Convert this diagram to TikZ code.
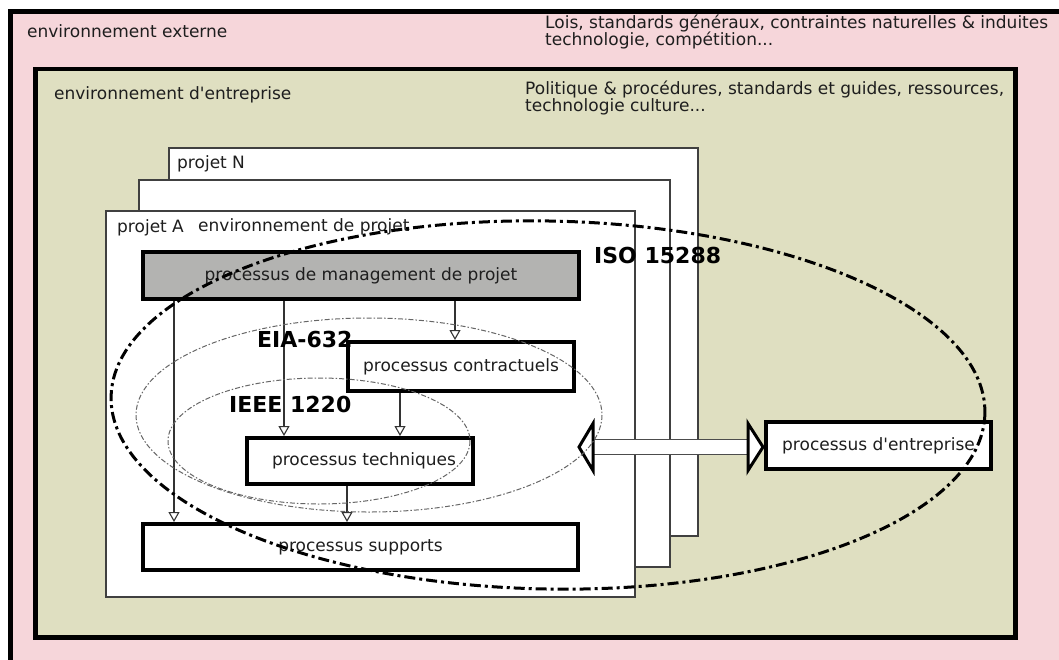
\documentclass[tikz,border=0pt]{standalone}
\usepackage{fontspec}
\setmainfont{DejaVu Sans}[Ligatures=TeXOff]
\usetikzlibrary{arrows.meta,calc}
\definecolor{pinkbg}{HTML}{F6D6DA}
\definecolor{olivebg}{HTML}{DFDFC1}
\definecolor{mgray}{HTML}{B3B3B1}
\definecolor{txtcol}{HTML}{1E1E1E}
\begin{document}
\begin{tikzpicture}[x=1pt,y=-1pt,
  txt/.style={font=\fontsize{17}{18}\selectfont, text=txtcol, inner sep=0pt},
  lbl/.style={font=\fontsize{22}{24}\selectfont\bfseries, text=black, inner sep=0pt},
  envbox/.style={draw=black, line width=4.5pt},
  projbox/.style={draw=black!75, line width=1.5pt, fill=white},
  procbox/.style={draw=black, line width=4pt, fill=white, inner sep=0pt, font=\fontsize{17}{18}\selectfont, text=txtcol},
  arr/.style={draw=black!80, line width=1.2pt, -{Triangle[width=11pt, length=10pt, fill=white, line width=1.1pt]}},
  shaft/.style={draw=black!70, line width=1.6pt, fill=white},
  fathead/.style={draw=black, line width=3pt, fill=white, line join=miter},
  isoell/.style={draw=black, line width=3pt, dash pattern=on 11pt off 4pt on 3pt off 4pt},
  thinell/.style={draw=black!60, line width=1pt, dash pattern=on 5pt off 2pt on 1.5pt off 2pt}
]
\useasboundingbox (0,0) rectangle (1059,659);
% environments
\draw[envbox, fill=pinkbg] (10.5,11.5) rectangle (1075,675);
\draw[envbox, fill=olivebg] (35.5,69) rectangle (1015.5,637.5);
\node[txt, anchor=base west] (ext) at (27,37) {environnement externe};
\node[txt, anchor=base west] (lois1) at (545,28) {Lois, standards généraux, contraintes naturelles \& induites};
\node[txt, anchor=base west] (lois2) at (545,45.5) {technologie, compétition...};
\node[txt, anchor=base west] (entr) at (54,99) {environnement d'entreprise};
\node[txt, anchor=base west] (pol1) at (525,94.5) {Politique \& procédures, standards et guides, ressources,};
\node[txt, anchor=base west] (pol2) at (525,111) {technologie culture...};
% projects
\draw[projbox] (169,148) rectangle (698,536);
\draw[projbox] (139,180) rectangle (670,567);
\draw[projbox] (106,211) rectangle (635,597);
\node[txt, anchor=base west] (pN) at (177,168) {projet N};
\node[txt, anchor=base west] (pA) at (117,232) {projet A};
\node[txt, anchor=base west] (envp) at (198,231) {environnement de projet};
% process boxes
\node[procbox, fill=mgray, minimum width=436pt, minimum height=47pt] (mgmt) at (361,275.5) {processus de management de projet};
\node[procbox, minimum width=226pt, minimum height=49pt] (contr) at (461,366.5) {processus contractuels};
\node[procbox, minimum width=226pt, minimum height=46pt] (tech) at (360,461) {\hspace*{8pt}processus techniques};
\node[procbox, minimum width=435pt, minimum height=46pt] (supp) at (360.5,547) {processus supports};
\node[procbox, minimum width=225pt, minimum height=47pt] (ent) at (878.5,445.5) {processus d'entreprise};
% arrows
\coordinate (xa) at (174,0);
\coordinate (xb) at (284,0);
\coordinate (xc) at (455,0);
\coordinate (xd) at (400,0);
\coordinate (xe) at (347,0);
\draw[arr] (mgmt.south -| xa) -- (supp.north -| xa);
\draw[arr] (mgmt.south -| xb) -- (tech.north -| xb);
\draw[arr] (mgmt.south -| xc) -- (contr.north -| xc);
\draw[arr] (contr.south -| xd) -- (tech.north -| xd);
\draw[arr] (tech.south -| xe) -- (supp.north -| xe);
% double fat arrow
\path (ent.west) ++(-1,1.5) coordinate (rt) ++(-184,0) coordinate (lt);
\draw[shaft] ($(lt)+(14,-7.5)$) rectangle ($(rt)+(-15,7.5)$);
\draw[fathead] (lt) -- ++(14,-23.5) -- ++(0,47) -- cycle;
\draw[fathead] (rt) -- ++(-15,-23.5) -- ++(0,47) -- cycle;
% standard labels
\node[lbl, anchor=base west] (iso) at (594,263) {ISO 15288};
\node[lbl, anchor=base west] (eia) at (257,347) {EIA-632};
\node[lbl, anchor=base west] (ieee) at (229,412) {IEEE 1220};
% ellipses
\draw[thinell] (319,441) ellipse [x radius=151, y radius=63];
\draw[thinell] (369,415) ellipse [x radius=233, y radius=97];
\draw[isoell, rotate around={-1.1:(548,405)}] (548,405) ellipse [x radius=437, y radius=184];
\end{tikzpicture}
\end{document}
